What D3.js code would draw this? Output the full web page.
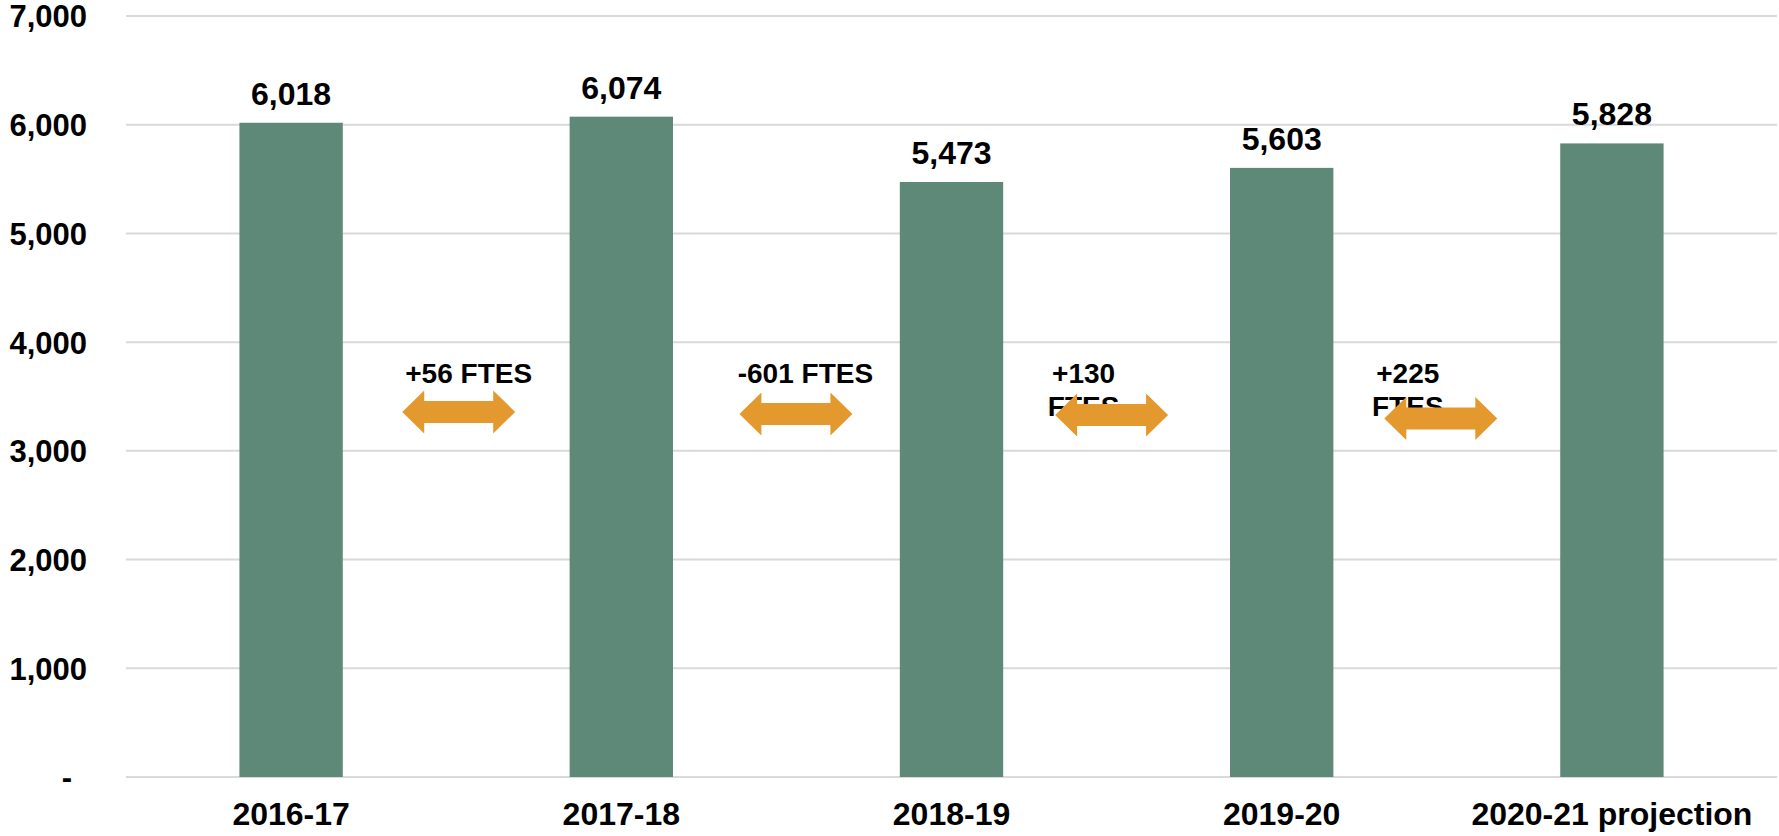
<!DOCTYPE html>
<html>
<head>
<meta charset="utf-8">
<script src="https://cdn.jsdelivr.net/npm/d3@7"></script>
<style>
    body { margin: 0; background: #ffffff; }
    svg { display: block; font-family: "Liberation Sans", Arial, sans-serif; font-weight: bold; }
</style>
</head>
<body>
<svg id="chart"></svg>
<script>
// chart values
var years = ["2016-17", "2017-18", "2018-19", "2019-20", "2020-21 projection"];
var ftes = [6018, 6074, 5473, 5603, 5828];
var yTicks = [0, 1000, 2000, 3000, 4000, 5000, 6000, 7000];

// change annotations between bars
var changeLines = [["+56 FTES"], ["-601 FTES"], ["+130", "FTES"], ["+225", "FTES"]];
var arrowLevel = [3358, 3340, 3330, 3298];
var textLevel = 3625;

var width = 1779;
var height = 836;
var barColour = "#5e8878";
var arrowColour = "#e3992d";

var svg = d3.select("#chart")
    .attr("width", width)
    .attr("height", height);

var x = d3.scaleBand()
    .domain(years)
    .range([126, 1777])
    .padding(0);

var y = d3.scaleLinear()
    .domain([0, 7000])
    .range([777, 16]);

var barWidth = x.bandwidth() * 0.313;

// gridlines
svg.append("g")
    .selectAll("line")
    .data(yTicks)
    .enter()
    .append("line")
    .attr("x1", 126)
    .attr("x2", 1777)
    .attr("y1", (d) => y(d))
    .attr("y2", (d) => y(d))
    .attr("stroke", "#d9d9d9")
    .attr("stroke-width", 2);

// y axis labels
var yAxis = d3.axisLeft(y)
    .tickValues(yTicks)
    .tickSize(0)
    .tickPadding(0)
    .tickFormat((d) => d === 0 ? "-" : d3.format(",")(d));

var yg = svg.append("g")
    .attr("transform", "translate(87,0)")
    .call(yAxis);
yg.select(".domain").remove();
yg.selectAll("text")
    .attr("font-family", null)
    .attr("font-size", 31)
    .attr("fill", "#000")
    .attr("dy", "0.35em")
    .attr("dx", (d) => d === 0 ? -15 : 0);

// x axis labels
var xAxis = d3.axisBottom(x)
    .tickSize(0)
    .tickPadding(0);

var xg = svg.append("g")
    .attr("transform", "translate(0,825)")
    .call(xAxis);
xg.select(".domain").remove();
xg.selectAll("text")
    .attr("font-family", null)
    .attr("font-size", 32)
    .attr("fill", "#000")
    .attr("y", 0)
    .attr("dy", 0);

// bars
svg.append("g")
    .selectAll("rect")
    .data(ftes)
    .enter()
    .append("rect")
    .attr("x", (d, i) => x(years[i]) + (x.bandwidth() - barWidth) / 2)
    .attr("y", (d) => y(d))
    .attr("width", barWidth)
    .attr("height", (d) => y(0) - y(d))
    .attr("fill", barColour);

// value labels
svg.append("g")
    .selectAll("text")
    .data(ftes)
    .enter()
    .append("text")
    .attr("x", (d, i) => x(years[i]) + x.bandwidth() / 2)
    .attr("y", (d) => y(d) - 18)
    .attr("text-anchor", "middle")
    .attr("font-size", 32)
    .text((d) => d3.format(",")(d));

// midpoint between two neighbouring bars
function gapCentre(i) {
    return x(years[i]) + x.bandwidth();
}

var textShift = [12.5, 19, -33, -39];
var arrowShift = [2.5, 9.5, -5, -6];

// change texts (drawn before the arrows, which overlap them)
var notes = svg.append("g")
    .selectAll("text")
    .data(changeLines)
    .enter()
    .append("text")
    .attr("text-anchor", "middle")
    .attr("font-size", 28)
    .attr("x", (d, i) => gapCentre(i) + textShift[i])
    .attr("y", y(textLevel));

notes.selectAll("tspan")
    .data((d) => d)
    .enter()
    .append("tspan")
    .attr("x", function () { return d3.select(this.parentNode).attr("x"); })
    .attr("dy", (d, j) => j === 0 ? 0 : 33)
    .text((d) => d);

// double headed arrows
function arrowPath(cx, cy) {
    var half = 56.5, head = 22, headH = 21.5, shaftH = 11;
    return [
        [cx - half, cy],
        [cx - half + head, cy - headH],
        [cx - half + head, cy - shaftH],
        [cx + half - head, cy - shaftH],
        [cx + half - head, cy - headH],
        [cx + half, cy],
        [cx + half - head, cy + headH],
        [cx + half - head, cy + shaftH],
        [cx - half + head, cy + shaftH],
        [cx - half + head, cy + headH]
    ].map((p) => p.join(",")).join(" ");
}

svg.append("g")
    .selectAll("polygon")
    .data(arrowLevel)
    .enter()
    .append("polygon")
    .attr("points", (d, i) => arrowPath(gapCentre(i) + arrowShift[i], y(d)))
    .attr("fill", arrowColour);
</script>
</body>
</html>
